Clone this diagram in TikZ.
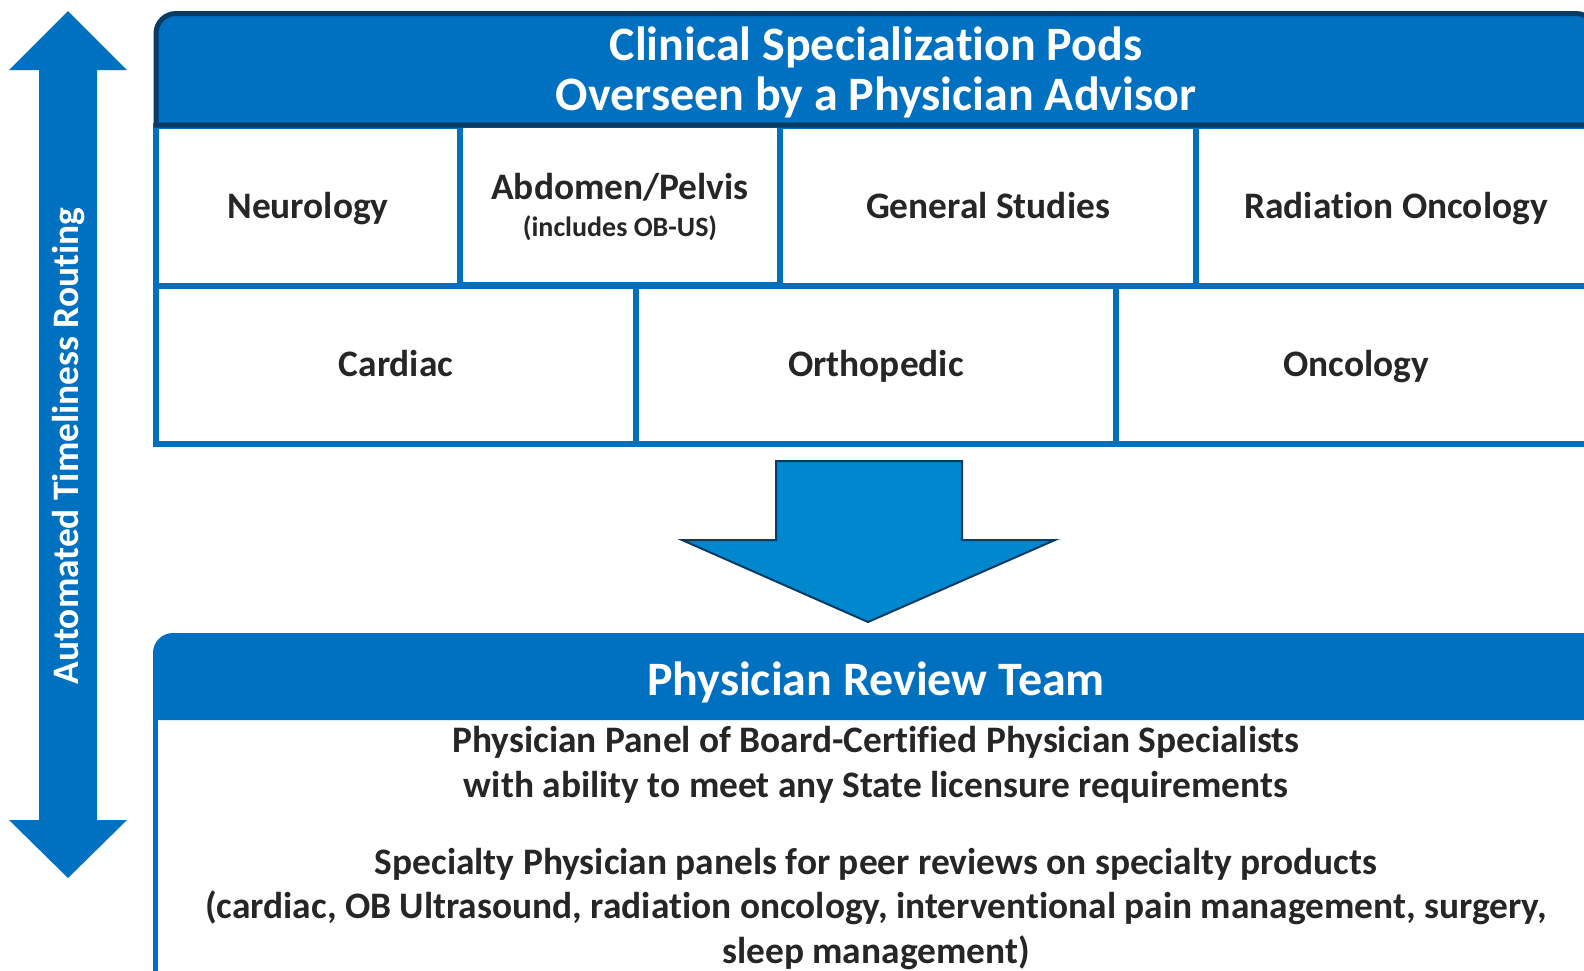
\documentclass[tikz,border=0pt]{standalone}
\usepackage{fontspec}
\setmainfont{Carlito}[Ligatures=NoCommon]
\usetikzlibrary{positioning}

\definecolor{podblue}{HTML}{0070C0}
\definecolor{podnavy}{HTML}{0B3A63}
\definecolor{flowblue}{HTML}{0088CF}
\definecolor{textgray}{HTML}{262626}

\begin{document}
\begin{tikzpicture}
        [
            x=0.5pt, y=-0.5pt,
            cell/.style={rectangle, draw=podblue, line width=3pt, fill=white, inner sep=0pt,
                         align=center, text=textgray, font=\bfseries\fontsize{18.7}{22}\selectfont},
            pod/.style={cell, text height=13pt, text depth=1pt},
            headtext/.style={text=white, align=center, font=\bfseries\fontsize{24}{25}\selectfont},
            bodytext/.style={text=textgray, align=center, font=\bfseries\fontsize{18.7}{22.3}\selectfont},
        ]
            \useasboundingbox (0,0) rectangle (1584,970);
            \clip (0,0) rectangle (1584,970);

            % routing arrow on the left
            \fill[podblue] (68,11) -- (127,70) -- (97,70) -- (97,820) -- (127,820) -- (68,878)
                -- (9,820) -- (39,820) -- (39,70) -- (9,70) -- cycle;
            \node[rotate=90, text=white, font=\bfseries\fontsize{18.7}{22}\selectfont] (routing) at (69,446)
                {Automated Timeliness Routing};

            % pods, first row
            \node[pod, minimum width=152pt, minimum height=80pt] (neuro) at (308,206) {Neurology};
            \node[cell, text depth=-2pt, minimum width=160pt, minimum height=80pt] (abdomen) at (620,205)
                {Abdomen/Pelvis\\[-3.5pt]{\fontsize{14}{17}\selectfont (includes OB-US)}};
            \node[pod, minimum width=208pt, minimum height=80pt] (general) at (988,206) {General Studies};
            \node[pod, minimum width=200pt, minimum height=80pt] (radonc) at (1396,206) {Radiation Oncology};

            % pods, second row
            \node[pod, minimum width=240pt, minimum height=79pt] (cardiac) at (396,364.5) {Cardiac};
            \node[pod, minimum width=240pt, minimum height=79pt] (ortho) at (876,364.5) {Orthopedic};
            \node[pod, minimum width=240pt, minimum height=79pt] (onc) at (1356,364.5) {Oncology};

            % pods header
            \draw[fill=podblue, draw=podnavy, line width=2.5pt]
                (156,125) [rounded corners=10pt] -- (156,13.5) -- (1596,13.5) [sharp corners] -- (1596,125) -- cycle;
            \node[headtext] (pods) at (876,72) {Clinical Specialization Pods\\Overseen by a Physician Advisor};

            % arrow down to the review team
            \draw[fill=flowblue, draw=podnavy, line width=1pt]
                (776,461) -- (962,461) -- (962,540) -- (1055,540) -- (868,622) -- (682,540) -- (776,540) -- cycle;

            % physician review team
            \draw[podblue, line width=2.5pt, fill=white] (155.5,700) rectangle (1600,1000);
            \fill[podblue] (153,720) [rounded corners=10pt] -- (153,633) -- (1610,633) [sharp corners] -- (1610,720) -- cycle;
            \node[headtext] (review) at (876,682) {Physician Review Team};
            \node[bodytext] (panel) at (876,765)
                {Physician Panel of Board-Certified Physician Specialists\\with ability to meet any State licensure requirements};
            \node[bodytext] (specialty) at (876,909)
                {Specialty Physician panels for peer reviews on specialty products\\(cardiac, OB Ultrasound, radiation oncology, interventional pain management, surgery,\\sleep management)};
        \end{tikzpicture}
\end{document}
